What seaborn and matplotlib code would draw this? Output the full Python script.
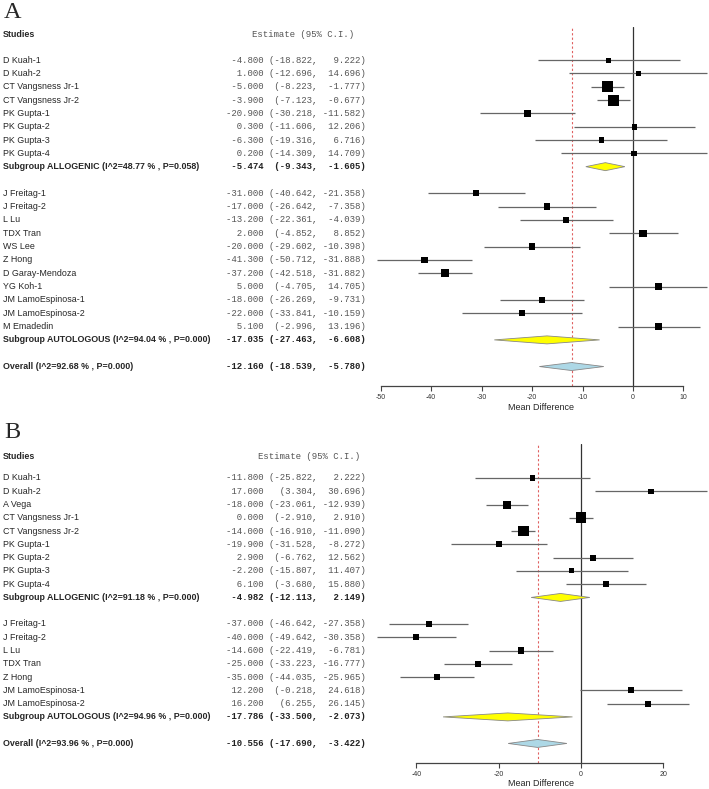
import numpy as np
import pandas as pd
import seaborn as sns
import matplotlib.pyplot as plt
from matplotlib.transforms import blended_transform_factory

# ---- Panel A data ----
studies_a = ["D Kuah-1", "D Kuah-2", "CT Vangsness Jr-1", "CT Vangsness Jr-2",
             "PK Gupta-1", "PK Gupta-2", "PK Gupta-3", "PK Gupta-4",
             "J Freitag-1", "J Freitag-2", "L Lu", "TDX Tran", "WS Lee", "Z Hong",
             "D Garay-Mendoza", "YG Koh-1", "JM LamoEspinosa-1", "JM LamoEspinosa-2",
             "M Emadedin"]
group_a = ["ALLOGENIC"] * 8 + ["AUTOLOGOUS"] * 11
est_a = [-4.8, 1.0, -5.0, -3.9, -20.9, 0.3, -6.3, 0.2,
         -31.0, -17.0, -13.2, 2.0, -20.0, -41.3, -37.2, 5.0, -18.0, -22.0, 5.1]
lo_a = [-18.822, -12.696, -8.223, -7.123, -30.218, -11.606, -19.316, -14.309,
        -40.642, -26.642, -22.361, -4.852, -29.602, -50.712, -42.518, -4.705,
        -26.269, -33.841, -2.996]
hi_a = [9.222, 14.696, -1.777, -0.677, -11.582, 12.206, 6.716, 14.709,
        -21.358, -7.358, -4.039, 8.852, -10.398, -31.888, -31.882, 14.705,
        -9.731, -10.159, 13.196]
weight_a = [2.4, 2.4, 11.8, 11.8, 3.9, 3.2, 2.7, 2.7,
            3.5, 3.9, 3.5, 5.2, 3.9, 3.9, 6.7, 4.4, 3.9, 3.5, 4.4]
sub_names_a = ["Subgroup ALLOGENIC (I^2=48.77 % , P=0.058)",
               "Subgroup AUTOLOGOUS (I^2=94.04 % , P=0.000)"]
sub_est_a = [-5.474, -17.035]
sub_lo_a = [-9.343, -27.463]
sub_hi_a = [-1.605, -6.608]
overall_a = ("Overall (I^2=92.68 % , P=0.000)", -12.160, -18.539, -5.780)

# ---- Panel B data ----
studies_b = ["D Kuah-1", "D Kuah-2", "A Vega", "CT Vangsness Jr-1", "CT Vangsness Jr-2",
             "PK Gupta-1", "PK Gupta-2", "PK Gupta-3", "PK Gupta-4",
             "J Freitag-1", "J Freitag-2", "L Lu", "TDX Tran", "Z Hong",
             "JM LamoEspinosa-1", "JM LamoEspinosa-2"]
group_b = ["ALLOGENIC"] * 9 + ["AUTOLOGOUS"] * 7
est_b = [-11.8, 17.0, -18.0, 0.0, -14.0, -19.9, 2.9, -2.2, 6.1,
         -37.0, -40.0, -14.6, -25.0, -35.0, 12.2, 16.2]
lo_b = [-25.822, 3.304, -23.061, -2.910, -16.910, -31.528, -6.762, -15.807, -3.680,
        -46.642, -49.642, -22.419, -33.223, -44.035, -0.218, 6.255]
hi_b = [2.222, 30.696, -12.939, 2.910, -11.090, -8.272, 12.562, 11.407, 15.880,
        -27.358, -30.358, -6.781, -16.777, -25.965, 24.618, 26.145]
weight_b = [2.7, 2.7, 6.25, 11.8, 11.2, 3.2, 3.5, 2.4, 3.9,
            3.5, 3.9, 4.4, 3.9, 4.4, 3.2, 3.5]
sub_names_b = ["Subgroup ALLOGENIC (I^2=91.18 % , P=0.000)",
               "Subgroup AUTOLOGOUS (I^2=94.96 % , P=0.000)"]
sub_est_b = [-4.982, -17.786]
sub_lo_b = [-12.113, -33.500]
sub_hi_b = [2.149, -2.073]
overall_b = ("Overall (I^2=93.96 % , P=0.000)", -10.556, -17.690, -3.422)

sns.set_style("white")
W, H = 709, 789
fig = plt.figure(figsize=(W / 100, H / 100), dpi=100)

SANS = "Liberation Sans"
MONO = "Liberation Mono"
FS = 6.4


def fmt(e, l, h):
    return f"{e:7.3f} {'(' + format(l, '.3f'):>8}, {h:7.3f})"


def forest(ax, studies, groups, est, lo, hi, weight, sub_names, sub_est, sub_lo, sub_hi,
           overall, xlim, ticks, ylim, head_row, head_x):
    tr = blended_transform_factory(fig.transFigure, ax.transData)
    rows, r = [], 0
    sub_rows = []
    for g in ["ALLOGENIC", "AUTOLOGOUS"]:
        for i, gg in enumerate(groups):
            if gg == g:
                rows.append(r)
                r += 1
        sub_rows.append(r)
        r += 2
    over_row = r

    ax.set_xlim(*xlim)
    ax.set_ylim(*ylim)
    ax.axvline(0, color="#333333", lw=0.9, zorder=1)
    ax.axvline(overall[1], color="#e06060", lw=0.8, ls=(0, (2, 2)), zorder=1)

    ax.hlines(rows, lo, hi, color="#666666", lw=0.9, zorder=2)
    df = pd.DataFrame({"est": est, "row": rows, "w": weight})
    k = (3.2 * 0.72) ** 2
    sns.scatterplot(data=df, x="est", y="row", size="w",
                    sizes=(k * min(weight), k * max(weight)),
                    marker="s", color="black", linewidth=0, legend=False,
                    ax=ax, zorder=3)

    hh = 0.3
    for rr, e, l, h in zip(sub_rows, sub_est, sub_lo, sub_hi):
        ax.fill([l, e, h, e], [rr, rr - hh, rr, rr + hh], facecolor="yellow",
                edgecolor="#888888", lw=0.6, zorder=3)
    ax.fill([overall[2], overall[1], overall[3], overall[1]],
            [over_row, over_row - hh, over_row, over_row + hh],
            facecolor="lightblue", edgecolor="#888888", lw=0.6, zorder=3)

    # text columns
    lx, ex = 3 / W, 366 / W
    ax.text(lx, head_row, "Studies", transform=tr, family=SANS, weight="bold",
            fontsize=FS, va="center", ha="left")
    ax.text(head_x / W, head_row, "Estimate (95% C.I.)", transform=tr, family=MONO,
            fontsize=6.5, color="#555555", va="center", ha="left")
    for name, rr, e, l, h in zip(studies, rows, est, lo, hi):
        ax.text(lx, rr, name, transform=tr, family=SANS, fontsize=FS, va="center")
        ax.text(ex, rr, fmt(e, l, h), transform=tr, family=MONO, fontsize=6.5,
                color="#555555", va="center", ha="right")
    for name, rr, e, l, h in zip(sub_names, sub_rows, sub_est, sub_lo, sub_hi):
        ax.text(lx, rr, name, transform=tr, family=SANS, fontsize=FS,
                weight="bold", va="center")
        ax.text(ex, rr, fmt(e, l, h), transform=tr, family=MONO, fontsize=6.5,
                weight="bold", color="#222222", va="center", ha="right")
    ax.text(lx, over_row, overall[0], transform=tr, family=SANS, fontsize=FS,
            weight="bold", va="center")
    ax.text(ex, over_row, fmt(*overall[1:]), transform=tr, family=MONO, fontsize=6.5,
            weight="bold", color="#222222", va="center", ha="right")

    sns.despine(ax=ax, left=True)
    ax.spines["bottom"].set_bounds(ticks[0], ticks[-1])
    ax.spines["bottom"].set_color("#444444")
    ax.spines["bottom"].set_linewidth(0.9)
    ax.set_yticks([])
    ax.set_ylabel("")
    ax.set_xticks(ticks)
    ax.set_xticklabels([str(t) for t in ticks], family=SANS)
    ax.tick_params(axis="x", length=3.5, width=0.8, color="#444444",
                   labelsize=5, labelcolor="#333333", pad=2.5, bottom=True)
    ax.set_xlabel("Mean Difference", family=SANS, fontsize=6.5, labelpad=1)
    ax.patch.set_alpha(0)


left, width = 374 / W, 335 / W
ax_a = fig.add_axes([left, 1 - 386 / H, width, (386 - 27) / H])
forest(ax_a, studies_a, group_a, est_a, lo_a, hi_a, weight_a,
       sub_names_a, sub_est_a, sub_lo_a, sub_hi_a, overall_a,
       xlim=(-51.29, 15.05), ticks=[-50, -40, -30, -20, -10, 0, 10],
       ylim=(24.46, -2.48), head_row=-1.95, head_x=252)

ax_b = fig.add_axes([left, 1 - 762.7 / H, width, (762.7 - 444) / H])
forest(ax_b, studies_b, group_b, est_b, lo_b, hi_b, weight_b,
       sub_names_b, sub_est_b, sub_lo_b, sub_hi_b, overall_b,
       xlim=(-50.28, 31.09), ticks=[-40, -20, 0, 20],
       ylim=(21.45, -2.56), head_row=-1.6, head_x=258)

fig.text(4 / W, 1 - 13 / H, "A", family="Liberation Serif", fontsize=17.5,
         va="center", ha="left")
fig.text(4 / W, 1 - 433 / H, "B", family="Liberation Serif", fontsize=17.5,
         va="center", ha="left")

fig.savefig("out.png", dpi=100)
